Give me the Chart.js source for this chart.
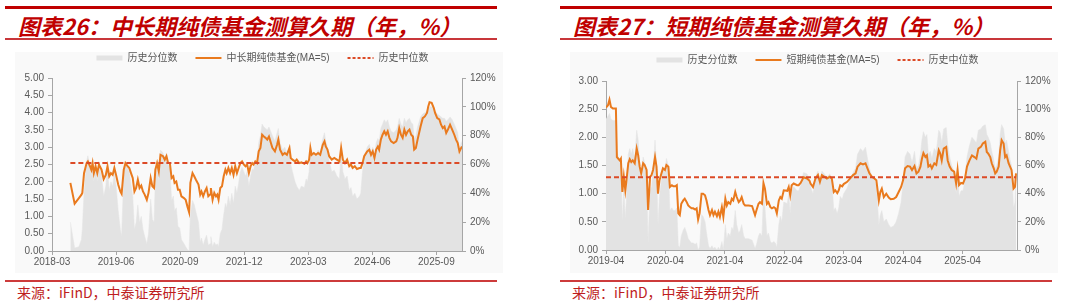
<!DOCTYPE html>
<html><head><meta charset="utf-8">
<script src="https://cdn.jsdelivr.net/npm/chart.js@4.4.1/dist/chart.umd.min.js"></script>
<style>
html,body{margin:0;padding:0;background:#fff;}
body{width:1080px;height:308px;position:relative;overflow:hidden;font-family:'Noto Sans CJK SC',sans-serif;}
.abs{position:absolute;}
.topline{height:3px;background:#C00000;}
.subline{height:2px;background:#C8363A;}
.title{font-style:italic;font-weight:bold;font-size:22px;letter-spacing:0px;line-height:24px;color:#C00000;white-space:nowrap;}
.panel{background:#f9f9f9;}
.src{font-size:14px;line-height:18px;color:#BE1E1E;white-space:nowrap;}
.botline{height:2px;background:#CD3B3B;}
</style></head><body>
<div class="abs panel" style="left:15px;top:52px;width:488px;height:221px;"></div>
<div class="abs panel" style="left:570px;top:52px;width:488px;height:221px;"></div>

<div class="abs topline" style="left:5px;top:6px;width:492px;"></div>
<div class="abs title" style="left:18px;top:13px;">图表26：中长期纯债基金测算久期（年，%）</div>
<div class="abs subline" style="left:5px;top:38px;width:492px;"></div>

<div class="abs topline" style="left:560px;top:6px;width:492px;"></div>
<div class="abs title" style="left:573px;top:13px;">图表27：短期纯债基金测算久期（年，%）</div>
<div class="abs subline" style="left:560px;top:38px;width:492px;"></div>

<div class="abs" style="left:0px;top:35px;width:525px;height:236px;"><canvas id="c1" width="525" height="236"></canvas></div>
<div class="abs" style="left:555px;top:37px;width:525px;height:233px;"><canvas id="c2" width="525" height="233"></canvas></div>

<div class="abs botline" style="left:5px;top:280px;width:492px;"></div>
<div class="abs src" style="left:17px;top:283px;">来源：iFinD，中泰证券研究所</div>
<div class="abs botline" style="left:560px;top:280px;width:492px;"></div>
<div class="abs src" style="left:572px;top:283px;">来源：iFinD，中泰证券研究所</div>

<script>
// ---------- Chart 26: 中长期纯债基金 (x = months since 2018-03) ----------
const leftMonths = [
 4.3,5.3,6.3,6.9,7.1,7.5,8.1,8.4,8.9,9.2,
 9.5,9.8,10.2,10.6,11.0,11.6,12.1,12.6,13.0,13.4,
 13.8,14.2,14.6,15.0,15.5,16.0,16.3,16.8,17.2,17.7,
 18.1,18.5,18.9,19.3,19.7,20.1,20.5,20.9,21.3,21.7,
 22.2,22.6,23.1,23.5,23.9,24.2,24.6,25.0,25.4,26.0,
 26.4,26.8,27.2,27.6,28.0,28.4,28.7,29.1,29.5,29.9,
 30.3,30.9,31.3,31.7,32.1,32.4,32.9,33.3,33.7,34.3,
 34.7,35.0,35.4,35.8,36.2,36.6,37.0,37.2,37.6,38.0,
 38.4,38.7,39.0,39.4,39.8,40.2,40.6,40.9,41.3,41.7,
 42.1,42.5,42.9,43.3,43.7,44.1,44.5,44.9,45.3,45.7,
 46.1,46.5,46.9,47.2,47.6,48.0,48.4,48.8,49.2,49.6,
 50.0,50.4,50.8,51.6,52.2,52.7,53.0,53.4,54.0,54.5,
 55.0,55.6,55.9,56.3,56.9,57.3,57.9,58.4,59.1,59.5,
 59.8,60.2,60.5,60.8,61.3,61.8,62.3,62.8,63.4,63.8,
 64.1,64.5,64.9,65.5,66.1,66.7,67.3,67.7,68.1,68.6,
 69.1,69.6,70.0,70.4,70.9,71.4,72.0,72.3,72.7,73.1,
 73.8,74.3,74.7,75.1,75.5,75.9,76.3,76.6,77.0,77.4,
 77.8,78.2,78.6,79.0,79.4,80.0,80.6,80.9,81.3,81.7,
 82.1,82.5,82.9,83.3,83.7,84.1,84.5,84.8,85.2,85.6,
 86.3,86.8,87.3,87.8,88.1,88.4,88.9,89.4,89.7,90.2,
 90.7,91.1,91.5,91.9,92.3,92.7,93.2,93.7,94.2,94.6,
 95.0,95.4,95.8,96.0];
const leftDuration = [
 1.97,1.37,1.53,1.63,1.68,2.25,2.54,2.59,2.45,2.35,
 2.54,2.25,2.45,2.25,2.50,2.35,2.08,2.20,2.45,2.16,
 2.25,2.20,2.40,2.20,1.92,1.72,1.65,2.35,2.54,2.45,
 2.40,2.25,2.11,1.72,1.82,2.06,1.82,1.89,1.72,1.63,
 1.48,1.68,2.11,1.87,1.82,2.35,2.54,2.30,2.78,2.74,
 2.64,2.74,2.54,2.54,2.11,2.16,1.97,2.01,1.77,1.77,
 1.58,1.53,1.48,1.29,1.12,1.97,2.25,2.16,2.06,1.92,
 1.63,1.72,1.58,1.72,1.82,1.58,1.63,1.82,1.48,1.68,
 1.58,1.63,1.48,1.82,1.87,2.16,2.35,2.25,2.40,2.25,
 2.40,2.20,2.45,2.25,2.40,2.54,2.59,2.50,2.45,2.50,
 2.25,2.45,2.54,2.50,2.59,2.54,2.88,2.98,3.36,3.31,
 3.27,3.22,3.31,2.98,2.88,3.07,3.22,2.93,2.78,2.83,
 2.78,2.98,2.69,2.64,2.59,2.64,2.54,2.56,2.52,2.59,
 2.54,2.64,2.98,2.78,2.83,2.78,2.83,2.78,3.07,3.17,
 3.02,2.93,2.74,2.64,2.69,2.64,2.59,2.98,2.64,2.54,
 2.64,2.45,2.50,2.40,2.45,2.37,2.40,2.40,2.54,2.74,
 2.88,2.93,2.78,2.88,2.69,2.93,3.02,2.93,3.22,3.36,
 3.46,3.36,3.46,3.27,3.17,3.12,3.17,3.27,3.55,3.36,
 3.27,3.51,3.36,3.46,3.51,3.36,3.31,2.93,2.98,3.22,
 3.60,3.84,3.89,3.99,4.18,4.30,4.28,4.13,3.99,3.84,
 3.80,3.65,3.55,3.60,3.41,3.51,3.65,3.51,3.36,3.22,
 3.12,2.88,2.98,3.02];
const leftPercentile = [
 20,2,3,8,15,40,62,66,58,52,
 62,48,58,48,60,52,38,45,58,42,
 48,45,55,45,28,15,10,52,62,58,
 55,46,38,15,20,32,20,24,15,10,
 5,12,36,22,20,50,60,48,70,68,
 64,68,60,58,35,38,28,30,17,16,
 8,5,3,1,0,25,35,32,27,20,
 6,9,4,8,11,4,5,10,3,6,
 4,5,3,12,15,25,33,30,38,32,
 40,33,45,40,47,55,58,55,52,55,
 45,52,57,56,62,60,75,80,88,86,
 85,84,86,80,76,82,85,75,70,72,
 68,72,60,55,48,45,42,45,44,50,
 48,55,72,65,68,66,70,68,78,82,
 76,72,62,55,56,52,50,68,55,50,
 52,42,44,38,40,36,38,40,55,65,
 72,74,68,72,65,75,78,76,85,88,
 91,89,91,86,83,82,84,86,92,88,
 86,92,89,91,92,89,88,78,80,86,
 93,95,96,97,99,100,100,98,97,95,
 94,93,92,92,90,91,93,91,88,85,
 82,70,75,76];
const leftMedian = 2.54;
const leftAxisMonths = [0, 96];
const leftTickMonths = [0,15,30,45,60,75,90];
const leftTickLabels = ['2018-03','2019-06','2020-09','2021-12','2023-03','2024-06','2025-09'];

// ---------- Chart 27: 短期纯债基金 (x = months since 2019-04) ----------
const rightMonths = [
 0,0.4,0.7,1.0,1.4,2.0,2.2,2.5,2.8,3.0,
 3.3,3.6,3.9,4.1,4.5,4.8,5.1,5.4,5.8,6.2,
 6.5,6.8,7.1,7.5,7.8,8.2,8.5,8.9,9.2,9.5,
 9.9,10.2,10.5,10.8,11.2,11.5,11.9,12.2,12.6,12.9,
 13.3,13.6,14.0,14.3,14.6,14.9,15.2,15.6,15.9,16.3,
 16.6,17.0,17.3,17.6,18.0,18.3,18.6,18.9,19.3,19.6,
 20.0,20.3,20.7,21.0,21.4,21.7,22.0,22.4,22.7,23.0,
 23.4,23.7,24.1,24.4,24.7,25.1,25.4,25.7,26.1,26.4,
 26.8,27.1,27.4,27.8,28.1,28.8,29.5,30.1,30.4,30.8,
 31.1,31.5,31.8,32.1,32.5,32.8,33.2,33.5,33.9,34.2,
 34.5,34.9,35.2,35.5,35.9,36.6,36.9,37.2,37.5,37.9,
 38.6,38.9,39.3,39.9,40.6,41.1,41.3,41.8,42.3,42.8,
 43.2,43.6,44.1,44.6,45.2,45.6,46.0,46.3,46.7,47.0,
 47.3,47.7,48.0,48.7,49.3,49.9,50.4,50.8,51.4,51.9,
 52.4,52.8,53.2,53.7,54.2,54.6,55.1,55.4,55.7,56.1,
 56.6,57.1,57.5,58.1,58.6,59.1,59.6,60.0,60.4,60.9,
 61.4,61.8,62.3,62.7,63.1,63.5,63.8,64.1,64.5,64.8,
 65.1,65.5,65.8,66.3,66.7,67.2,67.5,67.8,68.2,68.7,
 69.0,69.4,69.8,70.3,70.7,71.0,71.3,71.7,72.1,72.5,
 72.9,73.4,73.9,74.4,74.8,75.2,75.7,76.1,76.6,76.9,
 77.2,77.6,77.9,78.3,78.6,78.9,79.3,79.6,79.9,80.3,
 80.6,80.9,81.3,81.6,81.9,82.3,82.6,82.8];
const rightDuration = [
 2.53,2.57,2.67,2.54,2.51,2.51,1.65,1.62,1.59,1.62,
 1.03,1.30,1.06,1.21,1.54,1.61,1.56,1.59,1.54,1.80,
 1.68,1.48,1.36,1.54,1.51,1.42,0.71,1.30,1.33,1.42,
 1.65,1.48,1.00,1.24,1.36,1.45,1.42,1.51,1.48,1.12,
 1.15,1.13,1.13,1.15,0.65,0.62,0.82,0.88,0.91,0.85,
 0.79,0.76,0.74,0.74,0.72,0.74,0.54,0.65,1.00,1.00,
 0.97,0.88,0.71,0.62,0.71,0.62,0.68,0.60,0.68,0.59,
 0.76,0.59,0.91,0.79,0.85,0.82,0.91,0.88,1.03,0.94,
 0.85,0.88,0.94,0.82,0.79,0.79,0.78,0.62,0.71,0.82,
 0.85,0.82,1.19,1.09,0.82,0.85,0.76,0.74,0.76,0.74,
 0.65,0.88,0.94,0.91,1.06,1.05,1.12,0.97,1.15,1.18,
 1.15,1.15,1.19,1.29,1.27,1.23,1.18,1.12,1.27,1.33,
 1.21,1.33,1.30,1.27,1.30,1.27,1.03,1.06,1.01,1.06,
 1.15,1.13,1.17,1.21,1.27,1.33,1.36,1.48,1.54,1.52,
 1.54,1.45,1.36,1.30,1.27,1.24,0.88,1.03,1.09,0.94,
 1.00,0.93,0.90,0.91,0.94,1.03,1.12,1.24,1.45,1.49,
 1.48,1.42,1.49,1.36,1.39,1.48,1.62,1.72,1.65,1.68,
 1.48,1.51,1.45,1.54,1.51,1.77,1.71,1.59,1.80,1.83,
 1.59,1.48,1.42,1.39,1.18,1.42,1.15,1.19,1.18,1.27,
 1.48,1.59,1.68,1.65,1.62,1.80,1.83,1.89,1.92,1.74,
 1.71,1.65,1.54,1.45,1.36,1.39,1.48,1.77,1.95,1.89,
 1.65,1.68,1.54,1.48,1.42,1.09,1.12,1.36];
const rightPercentile = [
 93,95,97,93,92,92,70,66,62,64,
 20,45,22,35,68,72,68,72,65,85,
 78,60,48,66,62,55,5,42,45,55,
 78,60,18,38,50,58,55,65,60,28,
 30,28,28,30,3,2,10,14,16,12,
 8,6,5,5,4,5,0,2,25,24,
 20,12,3,1,3,1,2,0,2,0,
 6,0,18,8,12,10,16,14,28,18,
 12,14,18,10,8,8,7,1,4,10,
 12,10,40,30,10,12,6,5,6,5,
 2,18,24,20,34,33,40,26,42,45,
 42,42,46,55,54,50,45,40,52,56,
 48,56,54,52,54,50,28,30,26,30,
 38,36,40,44,50,55,58,68,72,70,
 73,65,58,52,50,46,18,25,28,20,
 22,18,16,17,20,26,34,48,66,70,
 68,62,70,58,60,68,78,84,80,82,
 68,70,65,72,70,85,83,76,86,87,
 75,66,60,56,40,58,38,42,42,50,
 66,74,80,78,76,85,86,88,89,82,
 80,76,70,64,58,60,66,82,89,86,
 76,78,70,64,60,30,34,55];
const rightMedian = 1.29;
const rightAxisMonths = [0, 83];
const rightTickMonths = [0,12,24,36,48,60,72];
const rightTickLabels = ['2019-04','2020-04','2021-04','2022-04','2023-04','2024-04','2025-04'];

// ---------- styles ----------
const GRAY = '#E3E3E3', ORANGE = '#E97A1E', RED = '#DC4A26', AXIS = '#A6A6A6', TXT = '#595959';
const FONT = "'Liberation Sans', Arial, 'Noto Sans CJK SC', sans-serif";

function legendSpacer(extra) {
  return { id: 'legendSpacer', beforeInit(chart) {
    const orig = chart.legend.fit;
    chart.legend.fit = function () { orig.bind(chart.legend)(); this.height += extra; };
  }};
}

function build(id, o) {
  const pts = (vals) => o.months.map((m, i) => ({ x: m, y: vals[i] }));
  const last = o.months.length - 1;
  new Chart(document.getElementById(id), {
    type: 'line',
    data: { datasets: [
      { label: '历史分位数', data: pts(o.pct), yAxisID: 'y1', borderColor: GRAY, borderWidth: 0.5,
        backgroundColor: GRAY, fill: 'origin', pointRadius: 0, tension: 0, order: 3, legendStyle: 'rect' },
      { label: o.name, data: pts(o.dur), yAxisID: 'y', borderColor: ORANGE, borderWidth: 2,
        backgroundColor: ORANGE, fill: false, pointRadius: 0, tension: 0, order: 2, legendStyle: 'line' },
      { label: '历史中位数', data: [{ x: o.months[0], y: o.median }, { x: o.months[last], y: o.median }],
        yAxisID: 'y', borderColor: RED, borderWidth: 2, borderDash: [5, 3], fill: false,
        pointRadius: 0, order: 1, legendStyle: 'line' }
    ]},
    options: {
      responsive: false, animation: false, events: [],
      layout: { padding: 0 },
      plugins: {
        tooltip: { enabled: false }, title: { display: false },
        legend: { display: true, position: 'top', align: 'center',
          labels: { usePointStyle: true, pointStyleWidth: 26, boxWidth: 26, boxHeight: 5, padding: 18,
            color: TXT, font: { size: 10, family: FONT },
            generateLabels: (chart) => chart.data.datasets.map((ds, i) => ({
              text: ds.label, datasetIndex: i, hidden: false,
              fillStyle: ds.legendStyle === 'rect' ? GRAY : ds.borderColor,
              strokeStyle: ds.borderColor,
              lineWidth: ds.legendStyle === 'rect' ? 0 : 2,
              lineDash: i === 2 ? [3, 2] : [],
              pointStyle: ds.legendStyle, fontColor: TXT
            }))
          }
        }
      },
      scales: {
        x: { type: 'linear', min: o.axisMonths[0], max: o.axisMonths[1],
          afterBuildTicks: (s) => { s.ticks = o.tickMonths.map(v => ({ value: v })); },
          ticks: { autoSkip: false, maxRotation: 0, padding: 1, color: TXT, font: { size: 10, family: FONT },
            callback: (v, i) => o.tickLabels[i] },
          grid: { display: true, drawOnChartArea: false, drawTicks: true, tickLength: 4, color: AXIS },
          border: { display: true, color: AXIS },
          afterFit: (s) => { s.height = 20; } },
        y: { position: 'left', min: 0, max: o.yMax,
          ticks: { stepSize: 0.5, padding: 4, color: TXT, font: { size: 10, family: FONT },
            callback: (v) => Number(v).toFixed(2) },
          grid: { display: true, drawOnChartArea: false, drawTicks: true, tickLength: 4, color: AXIS },
          border: { display: true, color: AXIS },
          afterFit: (s) => { s.width = o.leftW; } },
        y1: { position: 'right', min: 0, max: 120,
          ticks: { stepSize: 20, padding: 4, color: TXT, font: { size: 10, family: FONT },
            callback: (v) => v + '%' },
          grid: { display: true, drawOnChartArea: false, drawTicks: true, tickLength: 4, color: AXIS },
          border: { display: true, color: AXIS },
          afterFit: (s) => { s.width = o.rightW; } }
      }
    },
    plugins: [legendSpacer(o.extra)]
  });
}

build('c1', { months: leftMonths, dur: leftDuration, pct: leftPercentile, median: leftMedian,
  name: '中长期纯债基金(MA=5)', axisMonths: leftAxisMonths, tickMonths: leftTickMonths,
  tickLabels: leftTickLabels, yMax: 5, leftW: 52, rightW: 63, extra: 5 });
build('c2', { months: rightMonths, dur: rightDuration, pct: rightPercentile, median: rightMedian,
  name: '短期纯债基金(MA=5)', axisMonths: rightAxisMonths, tickMonths: rightTickMonths,
  tickLabels: rightTickLabels, yMax: 3, leftW: 51, rightW: 63, extra: 6 });
</script>
</body></html>
